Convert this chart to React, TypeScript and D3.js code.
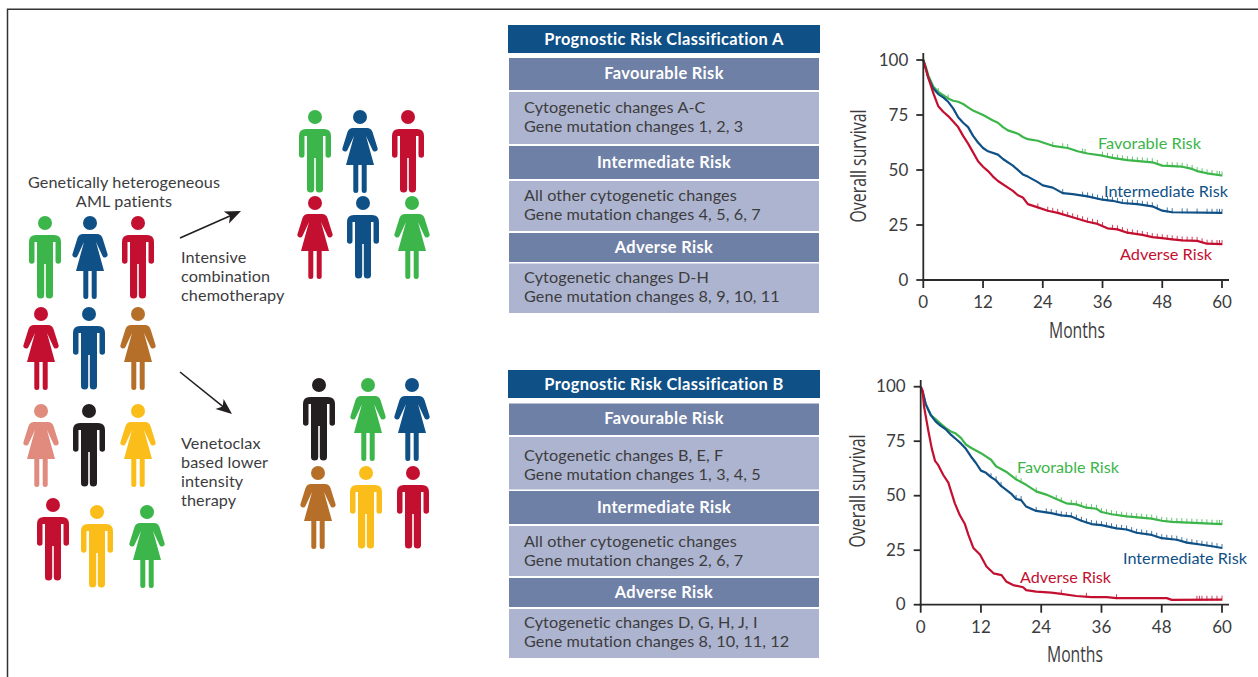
import React from "react";
import * as d3 from "d3";

// ---------- chart data (month, overall survival %) ----------
const monthTicks = [0, 12, 24, 36, 48, 60];
const survivalTicks = [0, 25, 50, 75, 100];

const aFavorable: [number, number][] = [[0,100],[0.5,97],[1,93],[2,88],[3,85.5],[4,84],[5,82.5],[6,81.5],[7,81],[8,80],[9,78.5],[10,77],[12,75],[14,72.5],[15,71.5],[16,69.5],[17,68],[19,66.5],[20,65],[21,64],[23,63.3],[24,62.5],[26,61],[29,60],[31,58.5],[33,57.5],[36,56.5],[38,55.5],[41,54.5],[46,53.5],[48,52],[52,51.5],[54,50.5],[55,49.5],[57,48.5],[60,47.5]];
const aIntermediate: [number, number][] = [[0,100],[0.5,96],[1,92],[2,87],[3,84.5],[4,83],[5,81],[6,78],[7,74],[8,71.5],[9,69.5],[10,65.5],[11,62.5],[12,60],[13,58.5],[15,57],[16,55],[18,52],[20,48],[21,47],[23,44.5],[24,43],[26,42],[28,39.5],[30,39],[33,38],[36,36.5],[38,36],[40,35],[43,34.5],[46,33.5],[48,31.5],[50,30.8],[60,30.5]];
const aAdverse: [number, number][] = [[0,100],[0.5,96],[1,92],[2,85],[3,79],[4,76.5],[5,74.5],[6,72],[7,69.5],[8,65.5],[9,62],[10,58],[11,54],[12,51.5],[13,49.5],[14,47],[15,45],[17,42],[18,40.5],[19,38.5],[20,37.5],[21,34.5],[23,33],[25,31.5],[27,30.5],[30,28.5],[33,26.5],[35,25.5],[37,23.5],[39,23],[41,21.5],[44,20.5],[46,19.5],[48,19],[50,18.5],[52,18],[55,17.8],[57,16.5],[60,16.3]];

const bFavorable: [number, number][] = [[0,100],[0.5,96],[1,92],[2,87],[3,85],[4,83],[5,81],[6,79.5],[7,78.5],[8,76.5],[9,73.5],[10,72],[12,69.5],[14,66.5],[15,63.5],[17,61],[19,57.5],[21,55],[23,52],[25,50.5],[27,48.5],[29,46.5],[31,46],[33,44.5],[35,44],[36,42.5],[38,41.5],[41,40.5],[46,39.5],[48,38.5],[50,38],[60,37]];
const bIntermediate: [number, number][] = [[0,100],[0.5,97],[1,92],[2,87],[3,84],[4,82],[5,80.5],[6,78],[7,76],[8,74],[9,71.5],[10,68],[11,65],[12,61.5],[13,60.5],[14,58.5],[15,57],[16,54.5],[18,51],[19,48.5],[20,48],[21,45],[23,43],[26,42],[28,41],[30,40.5],[32,38.5],[34,37],[36,36.5],[39,35],[41,34.5],[43,33],[46,32],[48,30.5],[51,29.8],[53,28.5],[56,27.5],[58,26.8],[60,26]];
const bAdverse: [number, number][] = [[0,100],[0.4,98],[0.66,91],[1.5,80],[2.2,71.7],[2.85,66],[3.5,64],[4.5,59.5],[5.5,56],[6.8,46.5],[7.8,41],[8.8,37],[9.5,32],[10.5,26],[11.8,23],[13.1,17.5],[14.5,14.4],[16.1,13.6],[17.1,10.5],[18.4,9],[20.4,8],[21,6.7],[23,6],[26,5.5],[28,5],[31,4],[34,3.5],[37,3.5],[39,3],[49,3],[50,2.2],[60,2.3]];

// censoring marks (months)
const aFavCens = [3,5,26,28,29,32,32.5,36,37,38,39,40,41,42,43,44,45,46,47,49,50,51,52,53,54,55,56,57,58,59,59.5,60];
const aIntCens = [28,32,33,34,35,36,37,38,39,40,41,42,43,44,45,46,47,49,50,52,53,55,57,58,59,59.5,60];
const aAdvCens = [23,25,26,27,28,29,30,31,32,33,34,35,36,38,39,40,41,42,43,44,45,46,47,48,49,50,51,52,53,54,55,56,57,58,59,59.5,60];
const bFavCens = [19,20,23,27,28,30,31,32,33,34,35,36,37,38,39,40,41,42,43,44,45,46,47,48,49,50,51,52,53,54,55,56,57,58,59,59.5,60];
const bIntCens = [14,15,16,19,20,23,25,26,27,28,29,30,31,32,33,34,35,36,37,38,39,40,41,42,43,44,45,46,47,48,49,50,51,52,53,54,55,56,57,58,59,60];
const bAdvCens = [28,33,39,55,55.5,56,57,58,59,60];

// ---------- palette ----------
const GREEN = "#3cb54a", BLUE = "#0f5086", RED = "#c30f30", BROWN = "#b56f29", YELLOW = "#fbbd19", PINK = "#e08b7d", BLACK = "#231f20";
const INK = "#3c3c3e", HEAD = "#0f5086", SUB = "#6f80a6", BODY = "#adb4cf";
const FONT = "Lato, 'Open Sans', sans-serif";
const NARROW = "'Open Sans', sans-serif";

// ---------- people ----------
type P = [string, "m" | "f", number, number];
const people: P[] = [
  [GREEN,"m",45,223],[BLUE,"f",90,223],[RED,"m",138,223],
  [RED,"f",41,314],[BLUE,"m",89,314],[BROWN,"f",138,314],
  [PINK,"f",41,411],[BLACK,"m",89,411],[YELLOW,"f",138,411],
  [RED,"m",53,505],[YELLOW,"m",97,512],[GREEN,"f",147,512],
  [GREEN,"m",315,117],[BLUE,"f",360,117],[RED,"m",408,117],
  [RED,"f",315,203],[BLUE,"m",363,203],[GREEN,"f",412,203],
  [BLACK,"m",319,385],[GREEN,"f",368,385],[BLUE,"f",412,385],
  [BROWN,"f",318,473],[YELLOW,"m",366,473],[RED,"m",413,473],
];
const MALE = "M-16 19 Q-16 12 -9 12 H9 Q16 12 16 19 V38 a2.75 2.75 0 0 1 -5.5 0 V19 H8 V72 a3.6 3.6 0 0 1 -7.2 0 V41 H-0.8 V72 a3.6 3.6 0 0 1 -7.2 0 V19 H-10.5 V38 a2.75 2.75 0 0 1 -5.5 0 Z";
const FEMALE = "M-7 11 H7 Q11 11 12.5 15 L17.5 31 a2.7 2.7 0 0 1 -5 2 L6 19 L14 48 H6.7 V73.5 a2.5 2.5 0 0 1 -5 0 V48 H-1.7 V73.5 a2.5 2.5 0 0 1 -5 0 V48 H-14 L-6 19 L-12.5 33 a2.7 2.7 0 0 1 -5 -2 L-12.5 15 Q-11 11 -7 11 Z";

const Person = ({ c, k, x, y }: { c: string; k: "m" | "f"; x: number; y: number }) => (
  <g transform={`translate(${x},${y})`} fill={c}>
    <circle r={7} />
    <path d={k === "m" ? MALE : FEMALE} />
  </g>
);

// ---------- tables ----------
const tableARows: [number, number, string, string?][] = [
  [58, 90, "Favourable Risk"],
  [92, 144, "Cytogenetic changes A-C", "Gene mutation changes 1, 2, 3"],
  [146, 179, "Intermediate Risk"],
  [181, 231, "All other cytogenetic changes", "Gene mutation changes 4, 5, 6, 7"],
  [233, 262, "Adverse Risk"],
  [263.5, 313, "Cytogenetic changes D-H", "Gene mutation changes 8, 9, 10, 11"],
];
const tableBRows: [number, number, string, string?][] = [
  [403.5, 435, "Favourable Risk"],
  [437, 489.5, "Cytogenetic changes B, E, F", "Gene mutation changes 1, 3, 4, 5"],
  [491, 524, "Intermediate Risk"],
  [526, 576, "All other cytogenetic changes", "Gene mutation changes 2, 6, 7"],
  [578, 607, "Adverse Risk"],
  [609, 658, "Cytogenetic changes D, G, H, J, I", "Gene mutation changes 8, 10, 11, 12"],
];

const Table = ({ title, top, rows, offs }: { title: string; top: number; rows: [number, number, string, string?][]; offs: number[] }) => (
  <g fontFamily={FONT}>
    <rect x={508} y={top} width={312} height={28} fill={HEAD} />
    <text x={664} y={top + 19.5} textAnchor="middle" fill="#fff" fontWeight={700} fontSize={16.4} letterSpacing={0.35}>{title}</text>
    {rows.map((r, i) => r[3] ? (
      <g key={i}>
        <rect x={509} y={r[0]} width={310} height={r[1] - r[0]} fill={BODY} />
        <text x={524} y={r[0] + offs[i]} fill={INK} fontSize={16.2} letterSpacing={0.12}>{r[2]}</text>
        <text x={524} y={r[0] + offs[i] + 19} fill={INK} fontSize={16.2} letterSpacing={0.12}>{r[3]}</text>
      </g>
    ) : (
      <g key={i}>
        <rect x={509} y={r[0]} width={310} height={r[1] - r[0]} fill={SUB} />
        <text x={664} y={(r[0] + r[1]) / 2 + 5} textAnchor="middle" fill="#fff" fontWeight={700} fontSize={16.4} letterSpacing={0.35}>{r[2]}</text>
      </g>
    ))}
  </g>
);

// ---------- survival chart ----------
type Series = { pts: [number, number][]; cens: number[]; color: string; label: string; lx: number; ly: number; lw: number };
const Chart = ({ x0, x1, y0, y100, axisEnd, axisTop, tickY, monthsX, monthsY, titleX, titleY, series }: {
  x0: number; x1: number; y0: number; y100: number; axisEnd: number; axisTop: number; tickY: number;
  monthsX: number; monthsY: number; titleX: number; titleY: number; series: Series[];
}) => {
  const x = d3.scaleLinear().domain([0, 60]).range([x0, x1]);
  const y = d3.scaleLinear().domain([0, 100]).range([y0, y100]);
  const line = d3.line<[number, number]>().x(d => x(d[0])).y(d => y(d[1])).curve(d3.curveLinear);
  const at = (pts: [number, number][], m: number) => {
    const i = Math.min(d3.bisector((d: [number, number]) => d[0]).right(pts, m), pts.length - 1);
    const a = pts[i - 1], b = pts[i];
    return a[1] + (b[1] - a[1]) * ((m - a[0]) / (b[0] - a[0] || 1));
  };
  return (
    <g>
      {series.map(s => (
        <g key={s.label} stroke={s.color} fill="none">
          <path d={line(s.pts) || ""} strokeWidth={2.2} strokeLinejoin="round" />
          {s.cens.map(m => {
            const v = y(at(s.pts, m));
            return <line key={m} x1={x(m)} x2={x(m)} y1={v - 4} y2={v + 1} strokeWidth={0.8} />;
          })}
        </g>
      ))}
      <g stroke="#2b2a2b" strokeWidth={1.8}>
        <line x1={x0} x2={x0} y1={axisTop} y2={y0 + 1} />
        <line x1={x0 - 1} x2={axisEnd} y1={y0} y2={y0} />
        {survivalTicks.map(t => <line key={t} x1={x0 - 7} x2={x0} y1={y(t)} y2={y(t)} />)}
        {monthTicks.map(t => <line key={t} x1={x(t)} x2={x(t)} y1={y0} y2={y0 + 8} />)}
      </g>
      <g fontFamily={FONT} fontSize={17} fill={INK}>
        {survivalTicks.map(t => <text key={t} x={x0 - 15} y={y(t) + 5.5} textAnchor="end">{t}</text>)}
        {monthTicks.map(t => <text key={t} x={x(t)} y={tickY} textAnchor="middle">{t}</text>)}
      </g>
      <text x={monthsX} y={monthsY} textAnchor="middle" textLength={56} lengthAdjust="spacingAndGlyphs" fontFamily={NARROW} fontSize={21} fill={INK}>Months</text>
      <text transform={`translate(${titleX},${titleY}) rotate(-90)`} textAnchor="middle" textLength={113} lengthAdjust="spacingAndGlyphs" fontFamily={NARROW} fontSize={21} fill={INK}>Overall survival</text>
      {series.map(s => (
        <text key={s.label} x={s.lx} y={s.ly} textLength={s.lw} lengthAdjust="spacingAndGlyphs" fontFamily={FONT} fontSize={16.2} fill={s.color}>{s.label}</text>
      ))}
    </g>
  );
};

const seriesA: Series[] = [
  { pts: aFavorable, cens: aFavCens, color: GREEN, label: "Favorable Risk", lx: 1098, ly: 149, lw: 103 },
  { pts: aIntermediate, cens: aIntCens, color: BLUE, label: "Intermediate Risk", lx: 1104, ly: 197, lw: 124 },
  { pts: aAdverse, cens: aAdvCens, color: RED, label: "Adverse Risk", lx: 1120, ly: 260, lw: 92 },
];
const seriesB: Series[] = [
  { pts: bFavorable, cens: bFavCens, color: GREEN, label: "Favorable Risk", lx: 1017, ly: 473, lw: 102 },
  { pts: bIntermediate, cens: bIntCens, color: BLUE, label: "Intermediate Risk", lx: 1123, ly: 564, lw: 124 },
  { pts: bAdverse, cens: bAdvCens, color: RED, label: "Adverse Risk", lx: 1020, ly: 583, lw: 91 },
];

const Arrow = ({ x1, y1, x2, y2 }: { x1: number; y1: number; x2: number; y2: number }) => {
  const a = Math.atan2(y2 - y1, x2 - x1);
  const deg = (a * 180) / Math.PI;
  return (
    <g>
      <line x1={x1} y1={y1} x2={x2 - 6 * Math.cos(a)} y2={y2 - 6 * Math.sin(a)} stroke="#231f20" strokeWidth={1.6} />
      <path d="M0 0 L-16 -6.5 L-12 0 L-16 6.5 Z" transform={`translate(${x2},${y2}) rotate(${deg})`} fill="#231f20" />
    </g>
  );
};

const Lines = ({ x, ys, rows, anchor }: { x: number; ys: number[]; rows: string[]; anchor?: string }) => (
  <g fontFamily={FONT} fontSize={16.2} letterSpacing={0.12} fill={INK} textAnchor={anchor}>
    {rows.map((r, i) => <text key={r} x={x} y={ys[i]}>{r}</text>)}
  </g>
);

export default function App() {
  return (
    <svg width={1258} height={677} viewBox="0 0 1258 677" style={{ position: "absolute", left: 0, top: 0, background: "#fff" }}>
      <path d="M7.5 677 V9.2 H1258" fill="none" stroke="#333" strokeWidth={1.5} />
      {people.map((p, i) => <Person key={i} c={p[0]} k={p[1]} x={p[2]} y={p[3]} />)}
      <Lines x={124} ys={[188, 207]} rows={["Genetically heterogeneous", "AML patients"]} anchor="middle" />
      <Lines x={181} ys={[263, 282, 301]} rows={["Intensive", "combination", "chemotherapy"]} />
      <Lines x={181} ys={[449, 468, 487, 506]} rows={["Venetoclax", "based lower", "intensity", "therapy"]} />
      <Arrow x1={180} y1={238} x2={241} y2={211} />
      <Arrow x1={180} y1={372} x2={232} y2={414} />
      <Table title="Prognostic Risk Classification A" top={25} rows={tableARows} offs={[0, 21, 0, 20, 0, 19]} />
      <Table title="Prognostic Risk Classification B" top={370} rows={tableBRows} offs={[0, 24, 0, 21, 0, 19]} />
      <Chart x0={923.3} x1={1222} y0={280} y100={60} axisEnd={1229} axisTop={53} tickY={308} monthsX={1077} monthsY={338} titleX={866} titleY={166} series={seriesA} />
      <Chart x0={920.7} x1={1222} y0={604.7} y100={386.7} axisEnd={1229} axisTop={380} tickY={633} monthsX={1075} monthsY={662} titleX={865} titleY={491} series={seriesB} />
    </svg>
  );
}
